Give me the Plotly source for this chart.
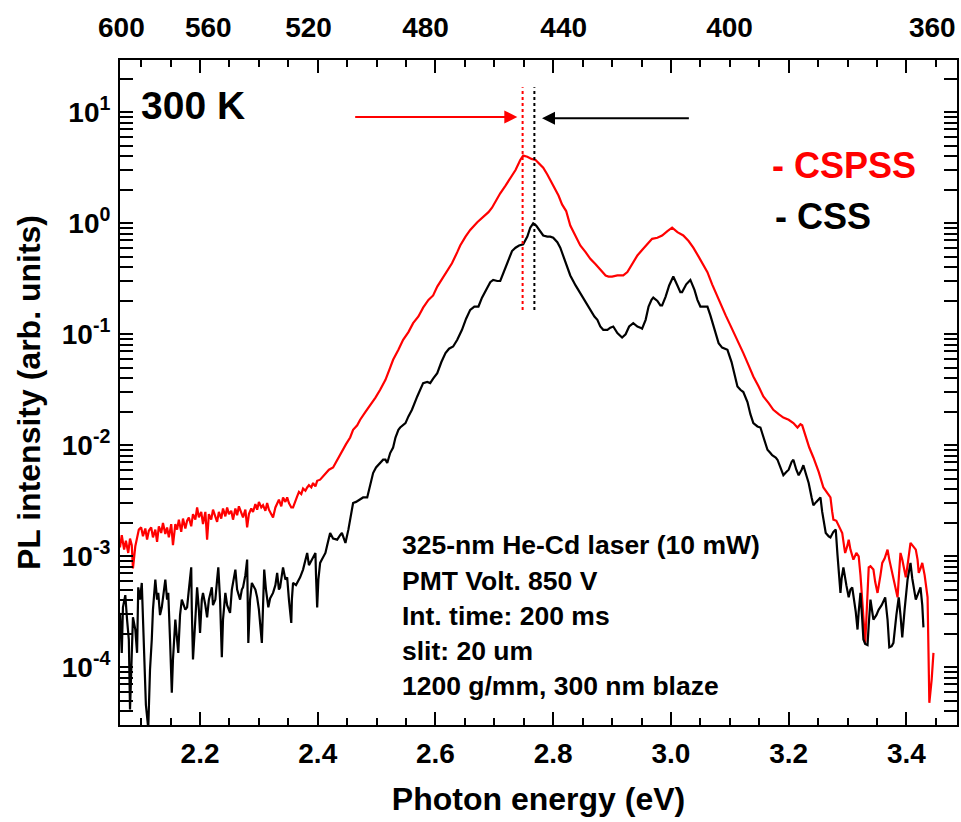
import plotly.graph_objects as go

# ---- data (energy in eV, intensity as log10 decades) ----
cspss_energy_ev = [
    2.064, 2.067, 2.071, 2.074, 2.078, 2.081, 2.084, 2.086, 2.090, 2.093,
    2.096, 2.100, 2.103, 2.107, 2.110, 2.113, 2.117, 2.120, 2.124, 2.127,
    2.130, 2.134, 2.137, 2.141, 2.144, 2.147, 2.151, 2.154, 2.158, 2.161,
    2.164, 2.168, 2.171, 2.175, 2.178, 2.181, 2.185, 2.188, 2.192, 2.195,
    2.198, 2.202, 2.205, 2.209, 2.212, 2.215, 2.219, 2.222, 2.226, 2.229,
    2.232, 2.236, 2.239, 2.243, 2.246, 2.249, 2.253, 2.256, 2.260, 2.263,
    2.266, 2.270, 2.273, 2.277, 2.280, 2.283, 2.287, 2.290, 2.294, 2.297,
    2.300, 2.304, 2.307, 2.311, 2.314, 2.317, 2.321, 2.324, 2.328, 2.331,
    2.334, 2.338, 2.341, 2.345, 2.348, 2.351, 2.355, 2.358, 2.362, 2.365,
    2.368, 2.372, 2.375, 2.379, 2.382, 2.385, 2.389, 2.392, 2.396, 2.399,
    2.404, 2.409, 2.414, 2.419, 2.426, 2.431, 2.436, 2.443, 2.448, 2.455,
    2.460, 2.467, 2.472, 2.481, 2.489, 2.498, 2.506, 2.515, 2.523, 2.528,
    2.537, 2.545, 2.554, 2.562, 2.571, 2.579, 2.588, 2.596, 2.603, 2.611,
    2.620, 2.628, 2.637, 2.642, 2.651, 2.659, 2.671, 2.681, 2.690, 2.696,
    2.703, 2.710, 2.719, 2.727, 2.736, 2.744, 2.749, 2.756, 2.763, 2.770,
    2.776, 2.783, 2.790, 2.795, 2.802, 2.809, 2.815, 2.822, 2.829, 2.838,
    2.846, 2.855, 2.863, 2.872, 2.880, 2.889, 2.894, 2.900, 2.909, 2.919,
    2.926, 2.934, 2.943, 2.951, 2.960, 2.968, 2.977, 2.985, 2.994, 3.002,
    3.011, 3.021, 3.030, 3.038, 3.047, 3.055, 3.062, 3.070, 3.077, 3.084,
    3.093, 3.101, 3.113, 3.123, 3.132, 3.140, 3.149, 3.157, 3.166, 3.174,
    3.183, 3.191, 3.200, 3.208, 3.215, 3.220, 3.223, 3.229, 3.235, 3.242,
    3.251, 3.259, 3.266, 3.271, 3.274, 3.276, 3.281, 3.285, 3.288, 3.291,
    3.295, 3.296, 3.300, 3.302, 3.305, 3.310, 3.315, 3.319, 3.322, 3.325,
    3.329, 3.330, 3.332, 3.336, 3.339, 3.344, 3.347, 3.351, 3.356, 3.359,
    3.363, 3.368, 3.371, 3.376, 3.380, 3.385, 3.388, 3.390, 3.393, 3.399,
    3.402, 3.407, 3.410, 3.416, 3.419, 3.421, 3.424, 3.427, 3.431, 3.436,
    3.439, 3.443, 3.446,
]
cspss_log10_intensity = [
    -2.92, -2.81, -2.94, -2.86, -2.97, -2.84, -2.90, -3.11, -2.91, -2.83,
    -2.76, -2.74, -2.82, -2.75, -2.85, -2.77, -2.74, -2.83, -2.76, -2.87,
    -2.73, -2.79, -2.70, -2.80, -2.74, -2.83, -2.71, -2.90, -2.71, -2.76,
    -2.67, -2.78, -2.66, -2.75, -2.68, -2.65, -2.73, -2.62, -2.67, -2.56,
    -2.65, -2.60, -2.71, -2.60, -2.85, -2.62, -2.67, -2.58, -2.64, -2.69,
    -2.60, -2.66, -2.57, -2.64, -2.56, -2.62, -2.59, -2.67, -2.57, -2.63,
    -2.55, -2.60, -2.65, -2.58, -2.74, -2.62, -2.57, -2.60, -2.53, -2.58,
    -2.51, -2.56, -2.54, -2.59, -2.52, -2.58, -2.62, -2.65, -2.56, -2.53,
    -2.49, -2.55, -2.47, -2.51, -2.47, -2.52, -2.56, -2.56, -2.49, -2.46,
    -2.42, -2.44, -2.39, -2.41, -2.38, -2.36, -2.38, -2.34, -2.37, -2.32,
    -2.31, -2.28, -2.25, -2.22, -2.20, -2.15, -2.10, -2.04, -1.99, -1.93,
    -1.86, -1.82, -1.77, -1.70, -1.64, -1.57, -1.50, -1.41, -1.30, -1.23,
    -1.14, -1.05, -0.98, -0.90, -0.84, -0.76, -0.69, -0.65, -0.57, -0.50,
    -0.42, -0.36, -0.26, -0.20, -0.12, -0.06, 0.01, 0.06, 0.10, 0.14,
    0.21, 0.27, 0.34, 0.41, 0.48, 0.57, 0.61, 0.60, 0.58, 0.57,
    0.54, 0.50, 0.44, 0.39, 0.32, 0.25, 0.17, 0.11, -0.02, -0.11,
    -0.20, -0.26, -0.32, -0.37, -0.42, -0.47, -0.48, -0.48, -0.47, -0.47,
    -0.44, -0.37, -0.29, -0.24, -0.19, -0.14, -0.13, -0.11, -0.07, -0.04,
    -0.08, -0.11, -0.16, -0.22, -0.30, -0.38, -0.44, -0.55, -0.64, -0.72,
    -0.83, -0.92, -1.05, -1.17, -1.28, -1.38, -1.47, -1.56, -1.62, -1.68,
    -1.72, -1.75, -1.77, -1.80, -1.84, -1.81, -1.82, -1.93, -2.02, -2.11,
    -2.24, -2.38, -2.44, -2.47, -2.60, -2.67, -2.68, -2.72, -2.76, -2.79,
    -2.94, -2.97, -2.90, -2.85, -2.94, -3.03, -2.97, -3.00, -3.17, -3.37,
    -3.66, -3.78, -3.57, -3.10, -3.09, -3.12, -3.23, -3.33, -3.17, -3.06,
    -3.02, -2.94, -3.03, -3.15, -3.26, -3.37, -3.12, -2.97, -3.03, -3.19,
    -3.08, -2.88, -2.90, -2.94, -3.03, -3.15, -3.11, -3.06, -3.17, -3.37,
    -4.32, -4.11, -3.87,
]

css_energy_ev = [
    2.064, 2.067, 2.069, 2.073, 2.076, 2.079, 2.081, 2.084, 2.086, 2.090,
    2.093, 2.095, 2.098, 2.101, 2.103, 2.107, 2.108, 2.112, 2.113, 2.115,
    2.118, 2.120, 2.124, 2.127, 2.129, 2.132, 2.135, 2.139, 2.141, 2.144,
    2.146, 2.149, 2.152, 2.154, 2.158, 2.161, 2.163, 2.166, 2.169, 2.175,
    2.178, 2.181, 2.185, 2.186, 2.188, 2.192, 2.195, 2.198, 2.200, 2.203,
    2.205, 2.209, 2.212, 2.215, 2.220, 2.222, 2.226, 2.229, 2.231, 2.234,
    2.237, 2.239, 2.243, 2.246, 2.251, 2.254, 2.260, 2.263, 2.268, 2.271,
    2.273, 2.277, 2.280, 2.282, 2.285, 2.288, 2.294, 2.297, 2.300, 2.305,
    2.307, 2.309, 2.312, 2.316, 2.319, 2.324, 2.328, 2.331, 2.334, 2.336,
    2.339, 2.341, 2.345, 2.348, 2.351, 2.355, 2.356, 2.358, 2.363, 2.370,
    2.375, 2.379, 2.382, 2.385, 2.390, 2.394, 2.396, 2.397, 2.399, 2.401,
    2.404, 2.407, 2.413, 2.416, 2.421, 2.426, 2.433, 2.438, 2.441, 2.445,
    2.447, 2.452, 2.455, 2.458, 2.460, 2.465, 2.472, 2.477, 2.484, 2.489,
    2.494, 2.499, 2.506, 2.511, 2.515, 2.518, 2.523, 2.528, 2.532, 2.537,
    2.540, 2.549, 2.554, 2.560, 2.569, 2.574, 2.579, 2.586, 2.591, 2.596,
    2.603, 2.610, 2.617, 2.623, 2.630, 2.637, 2.645, 2.652, 2.659, 2.666,
    2.673, 2.679, 2.688, 2.693, 2.698, 2.705, 2.710, 2.717, 2.724, 2.730,
    2.736, 2.742, 2.749, 2.756, 2.761, 2.766, 2.771, 2.778, 2.783, 2.790,
    2.795, 2.800, 2.807, 2.812, 2.817, 2.824, 2.829, 2.838, 2.846, 2.855,
    2.863, 2.870, 2.875, 2.880, 2.885, 2.892, 2.897, 2.902, 2.909, 2.914,
    2.917, 2.923, 2.929, 2.936, 2.943, 2.948, 2.951, 2.957, 2.962, 2.967,
    2.970, 2.977, 2.982, 2.985, 2.991, 2.997, 3.004, 3.011, 3.016, 3.019,
    3.026, 3.033, 3.040, 3.045, 3.050, 3.055, 3.062, 3.067, 3.074, 3.081,
    3.087, 3.096, 3.103, 3.110, 3.113, 3.118, 3.123, 3.130, 3.135, 3.140,
    3.147, 3.152, 3.159, 3.164, 3.169, 3.172, 3.178, 3.181, 3.186, 3.191,
    3.196, 3.200, 3.205, 3.208, 3.213, 3.217, 3.222, 3.225, 3.230, 3.234,
    3.239, 3.242, 3.247, 3.254, 3.257, 3.263, 3.268, 3.271, 3.276, 3.280,
    3.283, 3.288, 3.290, 3.293, 3.298, 3.302, 3.305, 3.308, 3.314, 3.317,
    3.319, 3.322, 3.325, 3.327, 3.330, 3.334, 3.336, 3.339, 3.342, 3.344,
    3.349, 3.353, 3.358, 3.364, 3.368, 3.371, 3.375, 3.378, 3.383, 3.387,
    3.390, 3.393, 3.397, 3.402, 3.407, 3.410, 3.416, 3.421, 3.424, 3.427,
    3.429,
]
css_log10_intensity = [
    -3.51, -3.87, -3.46, -3.35, -3.57, -3.75, -4.38, -3.84, -3.55, -3.66,
    -3.87, -3.28, -3.39, -3.24, -3.57, -4.20, -4.34, -4.55, -4.29, -4.02,
    -3.75, -3.48, -3.21, -3.39, -3.33, -3.53, -3.46, -3.30, -3.21, -3.39,
    -3.33, -3.75, -4.23, -3.93, -3.57, -3.75, -3.87, -3.53, -3.39, -3.48,
    -3.46, -3.30, -3.10, -3.48, -3.93, -3.57, -3.28, -3.48, -3.69, -3.39,
    -3.33, -3.44, -3.55, -3.39, -3.28, -3.44, -3.39, -3.21, -3.10, -3.39,
    -3.91, -3.57, -3.33, -3.44, -3.51, -3.30, -3.12, -3.30, -3.39, -3.30,
    -3.28, -3.17, -3.03, -3.78, -3.39, -3.24, -3.30, -3.37, -3.48, -3.78,
    -3.39, -3.12, -3.30, -3.46, -3.38, -3.33, -3.26, -3.15, -3.30, -3.28,
    -3.17, -3.10, -3.21, -3.19, -3.39, -3.60, -3.39, -3.24, -3.26, -3.19,
    -3.12, -3.03, -2.97, -3.08, -3.03, -2.99, -2.97, -3.17, -3.46, -3.21,
    -3.06, -3.03, -2.97, -2.90, -2.79, -2.84, -2.85, -2.81, -2.79, -2.85,
    -2.88, -2.76, -2.67, -2.56, -2.52, -2.51, -2.49, -2.47, -2.47, -2.36,
    -2.25, -2.20, -2.16, -2.13, -2.13, -2.16, -2.07, -2.02, -1.93, -1.86,
    -1.84, -1.80, -1.74, -1.68, -1.56, -1.50, -1.44, -1.43, -1.44, -1.40,
    -1.35, -1.25, -1.17, -1.13, -1.11, -1.05, -0.96, -0.86, -0.78, -0.75,
    -0.75, -0.67, -0.57, -0.53, -0.51, -0.52, -0.52, -0.43, -0.33, -0.25,
    -0.22, -0.20, -0.19, -0.12, -0.04, 0.00, -0.02, -0.07, -0.11, -0.12,
    -0.12, -0.13, -0.17, -0.22, -0.29, -0.40, -0.47, -0.56, -0.63, -0.71,
    -0.78, -0.84, -0.87, -0.93, -0.96, -0.96, -0.94, -0.93, -0.99, -1.02,
    -1.03, -1.00, -0.93, -0.90, -0.93, -0.94, -0.95, -0.87, -0.75, -0.69,
    -0.67, -0.70, -0.74, -0.74, -0.66, -0.56, -0.48, -0.56, -0.62, -0.62,
    -0.55, -0.51, -0.60, -0.69, -0.75, -0.75, -0.75, -0.83, -0.96, -1.08,
    -1.12, -1.14, -1.25, -1.39, -1.47, -1.50, -1.52, -1.61, -1.72, -1.80,
    -1.83, -1.84, -1.95, -2.04, -2.07, -2.09, -2.11, -2.13, -2.20, -2.27,
    -2.24, -2.22, -2.15, -2.13, -2.22, -2.27, -2.22, -2.18, -2.27, -2.34,
    -2.47, -2.54, -2.51, -2.47, -2.60, -2.79, -2.82, -2.83, -2.78, -2.76,
    -2.99, -3.33, -3.20, -3.10, -3.26, -3.37, -3.30, -3.28, -3.50, -3.66,
    -3.50, -3.33, -3.57, -3.75, -3.79, -3.80, -3.62, -3.39, -3.50, -3.57,
    -3.53, -3.48, -3.44, -3.37, -3.57, -3.82, -3.81, -3.78, -3.53, -3.37,
    -3.53, -3.73, -3.48, -3.21, -3.06, -3.20, -3.39, -3.32, -3.28, -3.44,
    -3.64,
]

# peak markers (eV) and arrows
cspss_peak_ev = 2.748
css_peak_ev = 2.768
cspss_arrow_ev = (2.461, 2.739)   # tail, head
css_arrow_ev = (3.033, 2.781)     # tail, head

# axes
x_range_ev = [2.064, 3.486]
y_range_log10 = [-4.52, 1.471]
energy_ticks = [2.2, 2.4, 2.6, 2.8, 3.0, 3.2, 3.4]
wavelength_ticks_nm = [600, 560, 520, 480, 440, 400, 360]
y_decades = [-4, -3, -2, -1, 0, 1]

info_lines = [
    "325-nm He-Cd laser (10 mW)",
    "PMT Volt. 850 V",
    "Int. time: 200 ms",
    "slit: 20 um",
    "1200 g/mm, 300 nm blaze",
]

FONT = "Liberation Sans, Arial, Helvetica, sans-serif"
RED = "#ff0000"

cspss = [10 ** v for v in cspss_log10_intensity]
css = [10 ** v for v in css_log10_intensity]

fig = go.Figure()
fig.add_trace(go.Scatter(x=cspss_energy_ev, y=cspss, mode="lines",
                         line=dict(color=RED, width=2.2), name="CSPSS", showlegend=False))
fig.add_trace(go.Scatter(x=css_energy_ev, y=css, mode="lines",
                         line=dict(color="black", width=2.2), name="CSS", showlegend=False))
# empty trace anchoring the top (wavelength) label axis
fig.add_trace(go.Scatter(x=[None], y=[None], xaxis="x2", yaxis="y",
                         showlegend=False, hoverinfo="skip"))

tickfont = dict(family=FONT, size=28, color="black", weight="bold")
titlefont = dict(family=FONT, size=32, color="black", weight="bold")

minor_x = [round(2.05 + 0.05 * i, 2) for i in range(29)]
minor_y = [d * 10 ** k for k in range(-5, 2) for d in range(2, 10)]

fig.update_layout(
    width=961, height=822,
    margin=dict(l=120, r=4, t=60, b=97, autoexpand=False),
    paper_bgcolor="white", plot_bgcolor="white",
    font=dict(family=FONT, color="black"),
    xaxis=dict(
        range=x_range_ev, tickmode="array", tickvals=energy_ticks,
        ticktext=[f"{v:.1f}" for v in energy_ticks],
        ticks="inside", ticklen=13, tickwidth=2, tickcolor="black",
        minor=dict(tickmode="array", tickvals=minor_x, ticks="inside", ticklen=7,
                   tickwidth=2, tickcolor="black", showgrid=False),
        showline=True, linewidth=2, linecolor="black", mirror="allticks",
        showgrid=False, zeroline=False, tickfont=tickfont, automargin=False,
        ticklabelstandoff=2,
        title=dict(text="Photon energy (eV)", standoff=20, font=titlefont),
    ),
    xaxis2=dict(
        overlaying="x", side="top", anchor="y", range=x_range_ev, tickmode="array",
        tickvals=[1239.84 / w for w in wavelength_ticks_nm],
        ticktext=[str(w) for w in wavelength_ticks_nm],
        ticks="", showline=False, showgrid=False, zeroline=False, automargin=False,
        tickfont=tickfont, ticklabelstandoff=16,
    ),
    yaxis=dict(
        type="log", range=y_range_log10, tickmode="array",
        tickvals=[10 ** d for d in y_decades],
        ticktext=[f"10<sup>{d}</sup>" for d in y_decades],
        ticks="inside", ticklen=13, tickwidth=2, tickcolor="black",
        minor=dict(tickmode="array", tickvals=minor_y, ticks="inside", ticklen=7,
                   tickwidth=2, tickcolor="black", showgrid=False),
        showline=True, linewidth=2, linecolor="black", mirror="allticks",
        showgrid=False, zeroline=False, tickfont=tickfont, automargin=False,
        ticklabelstandoff=2,
        title=dict(text="PL intensity (arb. units)", standoff=12, font=titlefont),
    ),
)

# dotted peak lines
for ev, col in [(cspss_peak_ev, RED), (css_peak_ev, "black")]:
    fig.add_shape(type="line", xref="x", yref="paper", x0=ev, x1=ev,
                  y0=0.624, y1=0.959, line=dict(color=col, width=2, dash="dot"))

# arrows
for (tail, head), col, yp in [(cspss_arrow_ev, RED, 0.9143), (css_arrow_ev, "black", 0.9123)]:
    fig.add_annotation(x=head, y=yp, xref="x", yref="paper", ax=tail, ay=0,
                       axref="x", ayref="pixel", text="", showarrow=True,
                       arrowhead=2, arrowsize=1.3, arrowwidth=2, arrowcolor=col, standoff=0)

fig.add_annotation(x=0.0872, y=0.931, xref="paper", yref="paper", text="300 K",
                   showarrow=False, xanchor="center", yanchor="middle",
                   font=dict(family=FONT, size=39, color="black", weight="bold"))
fig.add_annotation(x=0.7766, y=0.842, xref="paper", yref="paper", text="- CSPSS",
                   showarrow=False, xanchor="left", yanchor="middle",
                   font=dict(family=FONT, size=36, color=RED, weight="bold"))
fig.add_annotation(x=0.7800, y=0.765, xref="paper", yref="paper", text="- CSS",
                   showarrow=False, xanchor="left", yanchor="middle",
                   font=dict(family=FONT, size=36, color="black", weight="bold"))

line_y_px = [545, 581, 616, 651, 686]
for txt, ypx in zip(info_lines, line_y_px):
    fig.add_annotation(x=(400 - 120) / 837, y=(725 - ypx) / 665, xref="paper", yref="paper",
                       text=txt, showarrow=False, xanchor="left", yanchor="middle",
                       font=dict(family=FONT, size=26.5, color="black", weight="bold"))

# the page's default 8px body margin would shift the figure; remove it
fig.write_html("out.html", config={"displayModeBar": False},
               post_script="document.body.style.margin='0px';")
